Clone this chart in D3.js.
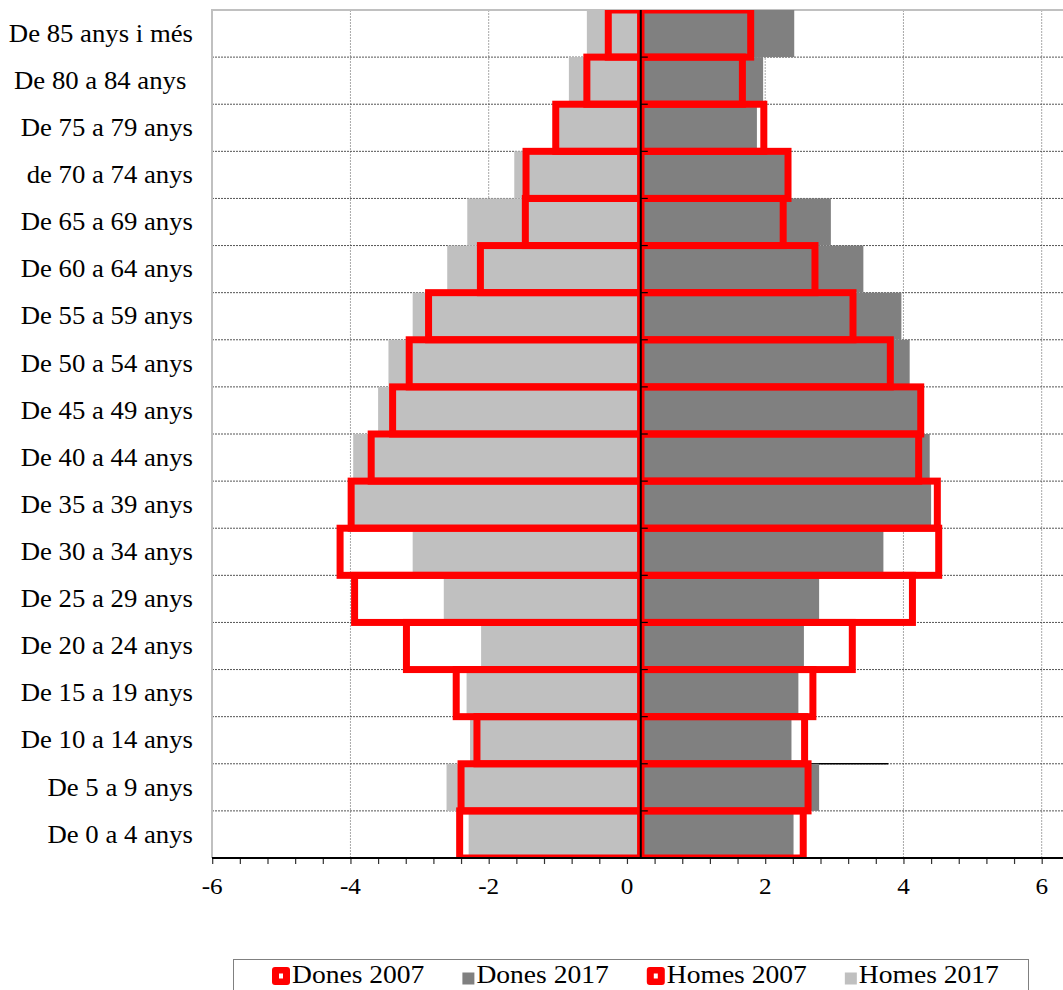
<!DOCTYPE html>
<html>
<head>
<meta charset="utf-8">
<script src="https://cdn.jsdelivr.net/npm/d3@7"></script>
<style>
    body { margin: 0; background: #fff; }
    text { font-family: 'Liberation Serif', 'Times New Roman', serif; fill: #000; }
</style>
</head>
<body>
<div id="pyramid"></div>
<script>
// pyramid.js
// age pyramid, 2007 vs 2017 (percent of population)

// categories, top to bottom
const ages = [
    'De 85 anys i més', 'De 80 a 84 anys ', 'De 75 a 79 anys', 'de 70 a 74 anys',
    'De 65 a 69 anys', 'De 60 a 64 anys', 'De 55 a 59 anys', 'De 50 a 54 anys',
    'De 45 a 49 anys', 'De 40 a 44 anys', 'De 35 a 39 anys', 'De 30 a 34 anys',
    'De 25 a 29 anys', 'De 20 a 24 anys', 'De 15 a 19 anys', 'De 10 a 14 anys',
    'De 5 a 9 anys', 'De 0 a 4 anys'
];

// series values (homes negative, to the left)
const dones2007 = [1.79, 1.67, 1.98, 2.33, 2.26, 2.72, 3.27, 3.81, 4.25, 4.22, 4.49, 4.51, 4.13, 3.26, 2.69, 2.57, 2.62, 2.55];
const dones2017 = [2.42, 1.97, 1.88, 2.30, 2.95, 3.42, 3.97, 4.09, 4.22, 4.38, 4.40, 3.71, 2.78, 2.56, 2.48, 2.38, 2.78, 2.41];
const homes2007 = [-0.27, -0.58, -1.03, -1.46, -1.47, -2.12, -2.87, -3.15, -3.39, -3.70, -3.99, -4.15, -3.94, -3.19, -2.47, -2.17, -2.40, -2.42];
const homes2017 = [-0.58, -0.84, -1.05, -1.63, -2.31, -2.60, -3.10, -3.45, -3.60, -3.96, -4.02, -3.10, -2.65, -2.11, -2.32, -2.27, -2.61, -2.29];

// axis ticks + legend labels
const xTicks = [-6, -4, -2, 0, 2, 4, 6];
const legendLabels = ['Dones 2007', 'Dones 2017', 'Homes 2007', 'Homes 2017'];

// the vertical axis crosses the value axis here, bars start from it
const crossAt = 0.2;

// Height and Width
const [width, height] = [1063, 990];
const plot = { left: 212, top: 10, right: 1070, bottom: 858 };

const svg = d3.select('#pyramid')
    .append('svg')
    .attr('width', width)
    .attr('height', height);

const x = d3.scaleLinear()
    .domain([-6, 6])
    .range([212.2, 1041.7]);

const y = d3.scaleBand()
    .domain(ages)
    .range([plot.top, plot.bottom])
    .padding(0);

// text in the original is a bit wider than the font: stretch horizontally
function stretched(sel, px, py, sx) {
    return sel
        .attr('x', 0).attr('y', 0)
        .attr('transform', (d, i) => `translate(${px(d, i)} ${py(d, i)}) scale(${sx} 1)`);
};

// grid + frame
function grid() {
    const g = svg.append('g');
    g.selectAll('line.vgrid')
        .data(xTicks.slice(1))
        .join('line')
        .attr('x1', (d) => x(d)).attr('x2', (d) => x(d))
        .attr('y1', plot.top).attr('y2', plot.bottom)
        .style('stroke', '#a8a8a8')
        .style('stroke-width', 1)
        .style('stroke-dasharray', '2,1');

    g.selectAll('line.hgrid')
        .data(ages.slice(1))
        .join('line')
        .attr('x1', plot.left).attr('x2', plot.right)
        .attr('y1', (d) => y(d)).attr('y2', (d) => y(d))
        .style('stroke', '#555')
        .style('stroke-width', 1)
        .style('stroke-dasharray', '2,1');

    // stray dark line left in the original between two rows
    g.append('line')
        .attr('x1', x(crossAt)).attr('x2', x(3.78))
        .attr('y1', y('De 5 a 9 anys')).attr('y2', y('De 5 a 9 anys'))
        .style('stroke', '#000')
        .style('stroke-width', 1.5);

    // plot area border, top + left
    g.append('path')
        .attr('d', `M${plot.right},${plot.top}H${plot.left}V${plot.bottom}`)
        .attr('fill', 'none')
        .style('stroke', '#c0c0c0')
        .style('stroke-width', 2);
};

// bars from the crossing point out to the value
function bars(values, cls) {
    return svg.append('g')
        .attr('clip-path', 'url(#plotclip)')
        .selectAll('rect')
        .data(values.map((v, i) => ({ age: ages[i], v: v })))
        .join('rect')
        .attr('class', cls)
        .attr('x', (d) => Math.min(x(d.v), x(crossAt)))
        .attr('width', (d) => Math.abs(x(d.v) - x(crossAt)))
        .attr('y', (d) => y(d.age))
        .attr('height', y.bandwidth());
};

function axes() {
    // value axis at the bottom, minor ticks every 0.4
    const xAxis = d3.axisBottom(x)
        .tickValues(d3.range(-6, 6.4, 0.4))
        .tickSize(6)
        .tickFormat('');
    const gx = svg.append('g')
        .attr('transform', `translate(0 ${plot.bottom})`)
        .call(xAxis);
    gx.select('.domain').remove();
    gx.selectAll('line').style('stroke', '#333').style('stroke-width', 1.2);
    gx.append('line')
        .attr('x1', plot.left).attr('x2', plot.right)
        .style('stroke', '#000')
        .style('stroke-width', 2);

    const tl = svg.append('g')
        .selectAll('text')
        .data(xTicks)
        .join('text')
        .attr('text-anchor', 'middle')
        .style('font-size', '24px')
        .text((d) => d);
    stretched(tl, (d) => x(d), () => 894, 1.05);

    // category axis at the crossing point
    const ga = svg.append('g');
    ga.append('line')
        .attr('x1', x(crossAt)).attr('x2', x(crossAt))
        .attr('y1', plot.top).attr('y2', plot.bottom)
        .style('stroke', '#000')
        .style('stroke-width', 2);
    ga.selectAll('line.tk')
        .data(ages.slice(1))
        .join('line')
        .attr('x1', x(crossAt)).attr('x2', x(crossAt) + 7)
        .attr('y1', (d) => y(d)).attr('y2', (d) => y(d))
        .style('stroke', '#000')
        .style('stroke-width', 1.2);

    const cl = svg.append('g')
        .selectAll('text')
        .data(ages)
        .join('text')
        .attr('dy', '0.33em')
        .attr('text-anchor', 'end')
        .style('font-size', '25px')
        .style('white-space', 'pre')
        .text((d) => d);
    stretched(cl, () => 193, (d) => y(d) + y.bandwidth() / 2, 1.07);
};

function legend() {
    const g = svg.append('g');
    g.append('rect')
        .attr('x', 233.5).attr('y', 959.5)
        .attr('width', 795).attr('height', 40)
        .attr('fill', '#fff')
        .style('stroke', '#808080')
        .style('stroke-width', 1);

    const kinds = ['red', '#808080', 'red', '#c0c0c0'];
    const sx = 1.06;
    let cx = 272;
    legendLabels.forEach((label, i) => {
        const red = kinds[i] === 'red';
        const s = red ? 18 : 12;
        const mid = red ? 976 : 978.5;
        g.append('rect')
            .attr('x', cx).attr('y', mid - s / 2)
            .attr('width', s).attr('height', s)
            .attr('rx', red ? 3 : 0)
            .attr('fill', kinds[i]);
        if (red) {
            g.append('rect')
                .attr('x', cx + 7).attr('y', mid - 2.5)
                .attr('width', 4).attr('height', 5)
                .attr('fill', '#fff');
        }
        const t = g.append('text')
            .datum(label)
            .style('font-size', '26px')
            .text(label);
        stretched(t, () => cx + s + 2, () => 983, sx);
        cx = cx + s + 2 + t.node().getComputedTextLength() * sx + 38;
    });
};

// clip for everything drawn inside the plot area
svg.append('defs')
    .append('clipPath')
    .attr('id', 'plotclip')
    .append('rect')
    .attr('x', plot.left).attr('y', plot.top)
    .attr('width', plot.right - plot.left)
    .attr('height', plot.bottom - plot.top);

grid();
bars(homes2017, 'h17').attr('fill', '#c0c0c0');
bars(dones2017, 'd17').attr('fill', '#808080');
bars(homes2007, 'h07').attr('fill', 'none').style('stroke', '#ff0000').style('stroke-width', 7);
bars(dones2007, 'd07').attr('fill', 'none').style('stroke', '#ff0000').style('stroke-width', 7);
axes();
legend();
</script>
</body>
</html>
